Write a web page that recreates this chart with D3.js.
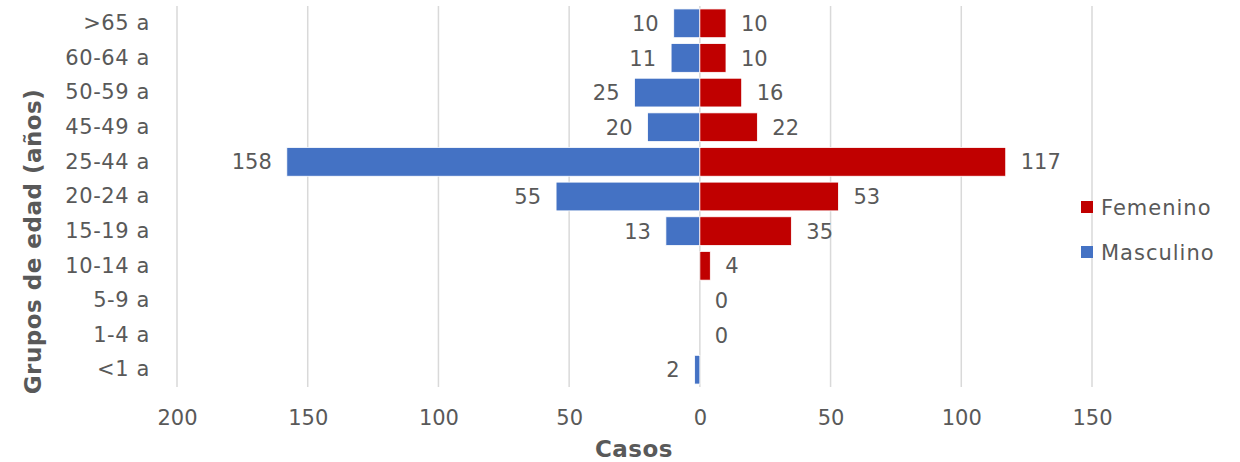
<!DOCTYPE html>
<html>
<head>
<meta charset="utf-8">
<script src="https://cdn.jsdelivr.net/npm/d3@7"></script>
<style>
  body { margin: 0; background: #fff; }
  text { font-family: "DejaVu Sans", sans-serif; fill: #595959; }
</style>
</head>
<body>
<div id="canvas"></div>
<script>
const groups = ['>65 a','60-64 a','50-59 a','45-49 a','25-44 a','20-24 a','15-19 a','10-14 a','5-9 a','1-4 a','<1 a']
const masculino = [10, 11, 25, 20, 158, 55, 13, null, null, null, 2]
const femenino = [10, 10, 16, 22, 117, 53, 35, 4, 0, 0, null]
const ticks = [-200, -150, -100, -50, 0, 50, 100, 150]

const width = 1240
const height = 462
const margin = {top: 6, left: 177, right: 148, bottom: 75}
const fs = 21

const svg = d3.select('#canvas')
  .append('svg')
  .attr('width', width)
  .attr('height', height)

let x = d3.scaleLinear()
  .domain([-200, 150])
  .range([margin.left, width - margin.right])

let y = d3.scaleBand()
  .domain(groups)
  .range([margin.top, height - margin.bottom])
  .paddingInner(0.17)
  .paddingOuter(0.085)

// gridlines
svg.append('g')
  .selectAll('line')
  .data(ticks).enter()
  .append('line')
  .attr('x1', d => x(d)).attr('x2', d => x(d))
  .attr('y1', margin.top).attr('y2', height - margin.bottom)
  .attr('stroke', '#d9d9d9')
  .attr('stroke-width', 1.5)

let xAxisCall = d3.axisBottom(x).tickValues(ticks).tickFormat(d => Math.abs(d)).tickSize(0)
let xAxis = svg.append('g')
  .attr('transform', `translate(0, ${height - margin.bottom + 20})`)
  .call(xAxisCall)
xAxis.select('.domain').remove()
xAxis.selectAll('text').attr('font-size', fs).attr('font-family', '"DejaVu Sans", sans-serif').attr('fill', '#595959')

let yAxisCall = d3.axisLeft(y).tickSize(0)
let yAxis = svg.append('g')
  .attr('transform', `translate(${margin.left - 24},0)`)
  .call(yAxisCall)
yAxis.select('.domain').remove()
yAxis.selectAll('text').attr('font-size', fs).attr('letter-spacing', 0.6)
  .attr('font-family', '"DejaVu Sans", sans-serif').attr('fill', '#595959')

const rows = groups.map((g, i) => ({g: g, m: masculino[i], f: femenino[i]}))

// masculino bars
svg.append('g').selectAll('rect')
  .data(rows.filter(d => d.m)).enter()
  .append('rect')
  .attr('x', d => x(-d.m))
  .attr('y', d => y(d.g))
  .attr('width', d => x(0) - x(-d.m))
  .attr('height', y.bandwidth())
  .attr('fill', '#4472C4')
  .attr('stroke', '#fff').attr('stroke-width', 0.8)

// femenino bars
svg.append('g').selectAll('rect')
  .data(rows.filter(d => d.f)).enter()
  .append('rect')
  .attr('x', x(0))
  .attr('y', d => y(d.g))
  .attr('width', d => x(d.f) - x(0))
  .attr('height', y.bandwidth())
  .attr('fill', '#C00000')
  .attr('stroke', '#fff').attr('stroke-width', 0.8)

// labels
svg.append('g').selectAll('text')
  .data(rows.filter(d => d.m)).enter()
  .append('text')
  .text(d => d.m)
  .attr('x', d => x(-d.m) - 15)
  .attr('y', d => y(d.g) + y.bandwidth() / 2)
  .attr('dy', '0.36em')
  .attr('text-anchor', 'end')
  .attr('font-size', fs)

svg.append('g').selectAll('text')
  .data(rows.filter(d => d.f !== null)).enter()
  .append('text')
  .text(d => d.f)
  .attr('x', d => x(d.f) + 15)
  .attr('y', d => y(d.g) + y.bandwidth() / 2)
  .attr('dy', '0.36em')
  .attr('font-size', fs)

// axis titles
svg.append('text')
  .text('Casos')
  .attr('x', 634).attr('y', 457)
  .attr('text-anchor', 'middle')
  .attr('font-size', 23).attr('font-weight', 'bold').attr('letter-spacing', 0.5)

svg.append('text')
  .text('Grupos de edad (años)')
  .attr('transform', `translate(41, ${(margin.top + height - margin.bottom) / 2 + 45}) rotate(-90)`)
  .attr('text-anchor', 'middle')
  .attr('font-size', 23).attr('font-weight', 'bold').attr('letter-spacing', 0.5)

// legend
const legend = [['Femenino', '#C00000'], ['Masculino', '#4472C4']]
let lg = svg.append('g').selectAll('g')
  .data(legend).enter()
  .append('g')
  .attr('transform', (d, i) => `translate(1081, ${201 + i * 45})`)
lg.append('rect').attr('width', 12).attr('height', 12).attr('fill', d => d[1])
lg.append('text').text(d => d[0]).attr('x', 20).attr('y', 6).attr('dy', '0.36em')
  .attr('font-size', fs).attr('letter-spacing', 1)
</script>
</body>
</html>
